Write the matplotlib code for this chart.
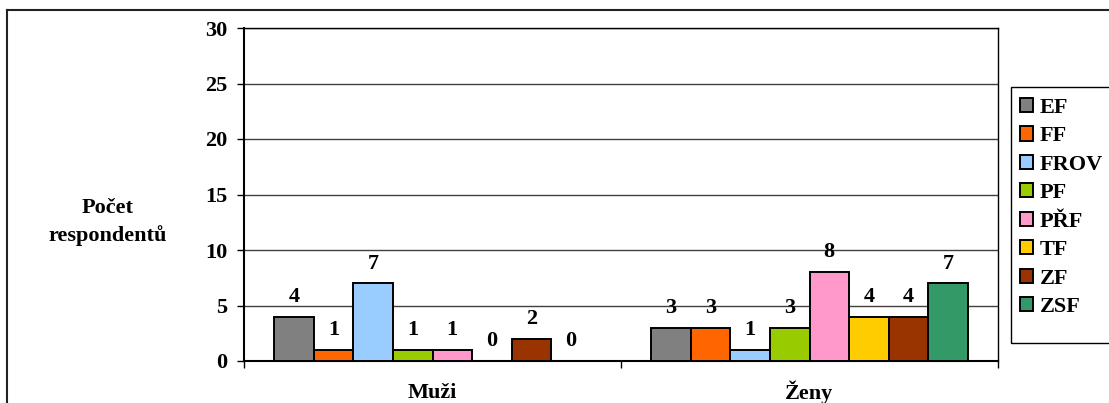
import matplotlib
matplotlib.use("Agg")
import matplotlib.pyplot as plt
from matplotlib.patches import Patch, Rectangle
from matplotlib.lines import Line2D
import numpy as np

groups = ["Muži", "Ženy"]
faculties = ["EF", "FF", "FROV", "PF", "PŘF", "TF", "ZF", "ZSF"]
muzi = [4, 1, 7, 1, 1, 0, 2, 0]
zeny = [3, 3, 1, 3, 8, 4, 4, 7]
colors = ["#808080", "#FF6600", "#99CCFF", "#99CC00",
          "#FF99CC", "#FFCC00", "#993300", "#339966"]
yticks = [0, 5, 10, 15, 20, 25, 30]

W, H = 1109, 403
FS = 16
fig = plt.figure(figsize=(W / 100, H / 100), dpi=100)
plt.rcParams["font.family"] = ["Liberation Serif", "DejaVu Serif"]
plt.rcParams["font.weight"] = "bold"

ax = fig.add_axes([244 / W, 1 - 361 / H, (998 - 244) / W, (361 - 28) / H])

values = np.array([muzi, zeny])
x = np.arange(len(groups))
bw = 0.105
for i, (name, col) in enumerate(zip(faculties, colors)):
    xs = x + (i - 3.5) * bw
    vals = values[:, i]
    ax.bar(xs, vals, width=bw, color=col, edgecolor="black", linewidth=1.4,
           zorder=3, label=name)
    for xv, v in zip(xs, vals):
        ax.annotate(str(v), (xv, v), xytext=(0, 7), textcoords="offset points",
                    ha="center", va="bottom", fontsize=FS, fontweight="bold")

ax.set_xlim(-0.5, 1.5)
ax.set_ylim(0, 30)
ax.set_yticks(yticks)
ax.set_yticklabels([str(t) for t in yticks], fontsize=FS, fontweight="bold")
ax.tick_params(axis="y", direction="out", length=5, width=1, pad=7)

ax.set_xticks([-0.5, 0.5, 1.5])
ax.set_xticklabels(["", "", ""])
ax.tick_params(axis="x", which="major", direction="out", length=5, width=1)
for xv, g in zip(x, groups):
    ax.annotate(g, (xv, 0), xycoords=("data", "axes fraction"),
                xytext=(0, -27), textcoords="offset points",
                ha="center", va="baseline", fontsize=FS, fontweight="bold")

ax.grid(axis="y", color="#404040", linewidth=1, zorder=0)
ax.set_axisbelow(True)
for side in ["left", "bottom"]:
    ax.spines[side].set_linewidth(1.5)
for side in ["top", "right"]:
    ax.spines[side].set_linewidth(1)

fig.text(108 / W, 1 - 222 / H, "Počet\nrespondentů", ha="center", va="center",
         fontsize=FS, fontweight="bold", linespacing=1.45)

# legend with frame running off the right edge
handles = [Patch(facecolor=c, edgecolor="black", linewidth=1.4) for c in colors]
leg = fig.legend(handles, faculties, loc="upper left",
                 bbox_to_anchor=(1011 / W, 1 - 89 / H), frameon=False,
                 fontsize=FS, handlelength=0.6, handleheight=0.6,
                 handletextpad=0.3, labelspacing=0.38, borderaxespad=0)
for t in leg.get_texts():
    t.set_fontweight("bold")
fig.patches.append(Rectangle((1011 / W, 1 - 343 / H), 0.2, (343 - 87) / H,
                             transform=fig.transFigure, fill=False,
                             edgecolor="black", linewidth=1))

# outer chart border (left and top edges)
fig.lines.append(Line2D([7 / W, 7 / W], [-0.1, 1 - 10 / H], transform=fig.transFigure,
                        color="#222222", linewidth=1.5))
fig.lines.append(Line2D([7 / W, 1108 / W], [1 - 10 / H, 1 - 10 / H],
                        transform=fig.transFigure, color="#222222", linewidth=1.5))

fig.savefig("out.png", dpi=100)
